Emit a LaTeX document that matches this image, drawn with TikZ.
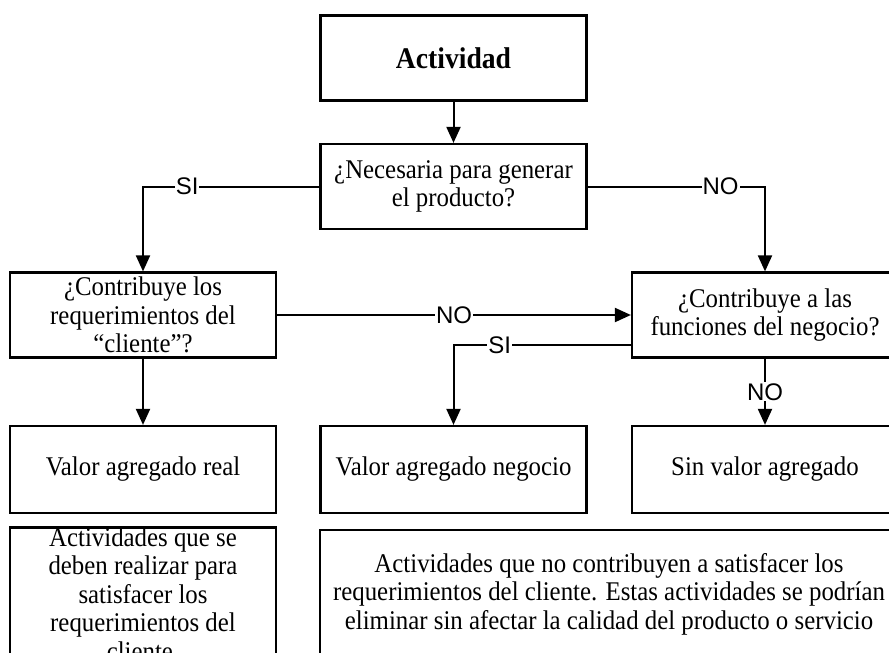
\documentclass[tikz,border=0pt]{standalone}
\usepackage{fontspec}
\setmainfont{Liberation Serif}[FakeStretch=0.92]
\newfontfamily\labelfont{Liberation Sans}
\usepackage{tikz}
\usetikzlibrary{positioning,arrows.meta}
\tikzset{
	box/.style={draw, line width=2.2pt, rectangle, inner sep=0pt, align=center,
		minimum width=266pt, minimum height=85pt, font=\fontsize{27}{28.5}\selectfont},
	arr/.style={line width=2pt, -{Triangle[length=16pt,width=14pt]}},
	lbl/.style={fill=white, inner sep=1pt, font=\labelfont\fontsize{24}{24}\selectfont}
}
\begin{document}
\begin{tikzpicture}[x=1pt, y=-1pt]
	\useasboundingbox (0,0) rectangle (889,653);
	\clip (0,0) rectangle (889,653);
	\node[box, font=\bfseries\fontsize{30}{30}\selectfont] (act) at (453.5,58) {Actividad};
	\node[box] (nec) at (453.5,186.5) {¿Necesaria para generar\\el producto?};
	\node[box] (cli) at (143,315) {¿Contribuye los\\requerimientos del\\“cliente”?};
	\node[box] (neg) at (765,315) {¿Contribuye a las\\funciones del negocio?};
	\node[box, minimum height=87pt] (vreal) at (143,469.5) {Valor agregado real};
	\node[box, minimum height=87pt] (vnego) at (453.5,469.5) {Valor agregado negocio};
	\node[box, minimum height=87pt] (sinv) at (765,469.5) {Sin valor agregado};
	\node[box, minimum height=128pt] (dreal) at (143,594) {Actividades que se\\deben realizar para\\satisfacer los\\requerimientos del\\cliente.};
	\node[box, minimum width=578pt, minimum height=128pt] (dsin) at (609,594) {Actividades que no contribuyen a satisfacer los\\requerimientos del cliente. Estas actividades se podrían\\eliminar sin afectar la calidad del producto o servicio};
	\coordinate (negsi) at ([yshift=-30pt]neg.west);
	\draw[arr] (act) -- (nec);
	\draw[arr] (nec.west) -| node[lbl, pos=0.375]{SI} (cli.north);
	\draw[arr] (nec.east) -| node[lbl, pos=0.375]{NO} (neg.north);
	\draw[arr] (cli.east) -- node[lbl]{NO} (neg.west);
	\draw[arr] (negsi) -| node[lbl, pos=0.37]{SI} (vnego.north);
	\draw[arr] (neg.south) -- node[lbl]{NO} (sinv.north);
	\draw[arr] (cli.south) -- (vreal.north);
\end{tikzpicture}
\end{document}
